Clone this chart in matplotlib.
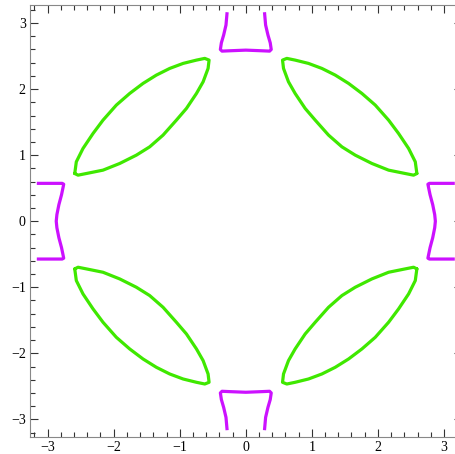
import numpy as np
import matplotlib
matplotlib.use("Agg")
import matplotlib.pyplot as plt
from matplotlib.ticker import MultipleLocator

# green lens, upper-left quadrant (others are mirror images)
lens_upper_x = [-2.59, -2.566, -2.465, -2.313, -2.162, -1.960, -1.758, -1.556,
                -1.354, -1.152, -0.949, -0.747, -0.621, -0.556]
lens_upper_y = [0.722, 0.899, 1.101, 1.328, 1.530, 1.758, 1.934, 2.086,
                2.212, 2.313, 2.389, 2.439, 2.465, 2.439]
lens_lower_x = [-0.556, -0.571, -0.646, -0.747, -0.899, -1.051, -1.253, -1.455,
                -1.657, -1.909, -2.162, -2.414, -2.540, -2.59]
lens_lower_y = [2.439, 2.313, 2.111, 1.934, 1.707, 1.530, 1.303, 1.126,
                1.0, 0.874, 0.773, 0.722, 0.697, 0.722]

# magenta piece on the right edge, upper half (mirrored in y and x)
side_x = [3.14, 2.78, 2.757, 2.765, 2.79, 2.83, 2.86, 2.87]
side_y = [0.573, 0.573, 0.56, 0.52, 0.40, 0.25, 0.10, 0.0]

# magenta piece on the top edge, right half (mirrored in x and y)
top_x = [0.0, 0.25, 0.36, 0.385, 0.37, 0.335, 0.30, 0.285]
top_y = [2.59, 2.58, 2.575, 2.60, 2.70, 2.82, 2.97, 3.14]

green = '#3fe800'
magenta = '#cc11ff'
lw = 2.3

fig = plt.figure(figsize=(4.56, 4.54), dpi=100)
ax = fig.add_axes([30/456, 17/454, 431.6/456, 431.6/454])

lx = np.array(lens_upper_x + lens_lower_x[1:])
ly = np.array(lens_upper_y + lens_lower_y[1:])
for sx in (1, -1):
    for sy in (1, -1):
        ax.plot(sx*lx, sy*ly, color=green, lw=lw, solid_joinstyle='round',
                solid_capstyle='round')

# side pieces
s_x = np.array(side_x + side_x[::-1][1:])
s_y = np.array(side_y + [-v for v in side_y[::-1][1:]])
for sx in (1, -1):
    ax.plot(sx*s_x, s_y, color=magenta, lw=lw, solid_joinstyle='round')

# top / bottom pieces
t_x = np.array([-v for v in top_x[::-1]] + top_x[1:])
t_y = np.array(top_y[::-1] + top_y[1:])
for sy in (1, -1):
    ax.plot(t_x, sy*t_y, color=magenta, lw=lw, solid_joinstyle='round')

lim = np.pi*1.04
ax.set_xlim(-lim, lim)
ax.set_ylim(-lim, lim)

ax.xaxis.set_major_locator(MultipleLocator(1))
ax.yaxis.set_major_locator(MultipleLocator(1))
ax.xaxis.set_minor_locator(MultipleLocator(0.2))
ax.yaxis.set_minor_locator(MultipleLocator(0.2))
ax.tick_params(which='both', direction='in', top=True, right=True,
               color='#333333', width=0.8)
ax.tick_params(which='major', length=6, labelsize=10, pad=3)
ax.tick_params(which='minor', length=3.5)
for lab in ax.get_xticklabels() + ax.get_yticklabels():
    lab.set_family('Liberation Serif')
for sp in ax.spines.values():
    sp.set_color('#888888')
    sp.set_linewidth(0.8)

fig.savefig('out.png', dpi=100)
